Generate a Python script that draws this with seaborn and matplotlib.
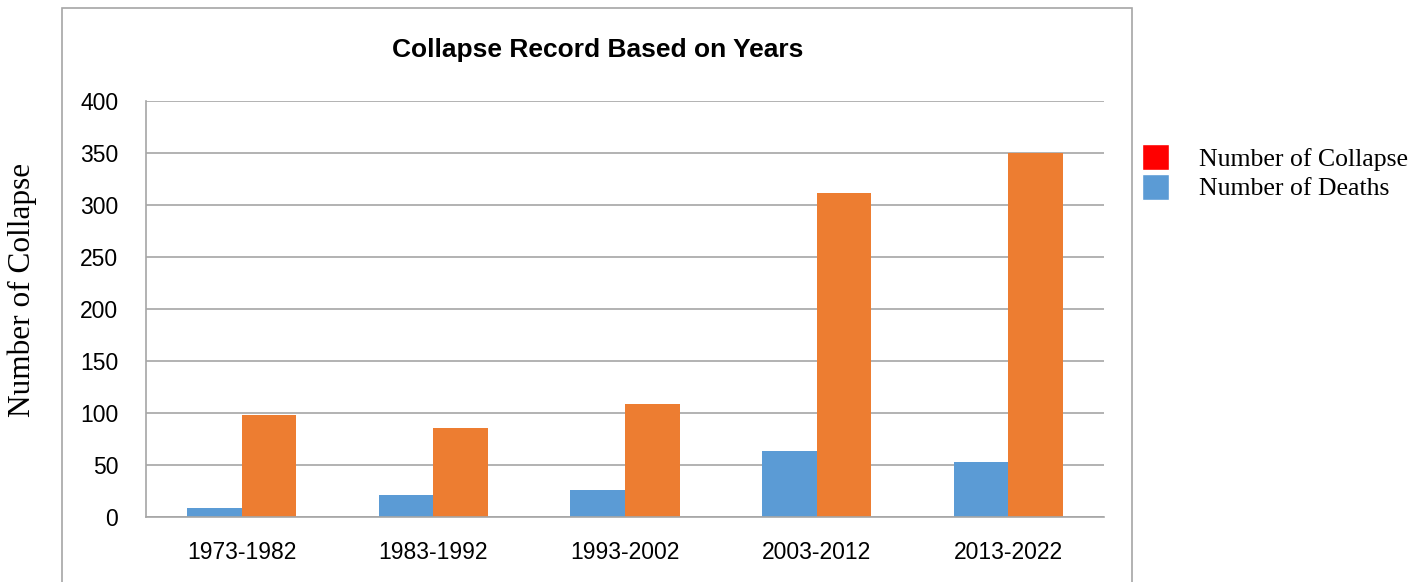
import pandas as pd
import seaborn as sns
import matplotlib.pyplot as plt
from matplotlib.patches import Patch, Rectangle

# Data
periods = ["1973-1982", "1983-1992", "1993-2002", "2003-2012", "2013-2022"]
deaths = [9, 21, 26, 63, 53]
collapses = [98, 86, 109, 312, 350]
y_ticks = [0, 50, 100, 150, 200, 250, 300, 350, 400]

df = pd.DataFrame({
    "period": periods * 2,
    "value": deaths + collapses,
    "series": ["Deaths"] * len(periods) + ["Collapse"] * len(periods),
})

sns.set_style("white")
plt.rcParams["font.family"] = ["Liberation Sans", "DejaVu Sans"]
plt.rcParams["text.color"] = "black"
plt.rcParams["xtick.labelcolor"] = "black"
plt.rcParams["ytick.labelcolor"] = "black"

fig = plt.figure(figsize=(14.26, 5.82), dpi=100)
ax = fig.add_axes([146 / 1426, 65 / 582, (1104 - 146) / 1426, (517 - 101) / 582])

sns.barplot(data=df, x="period", y="value", hue="series", hue_order=["Deaths", "Collapse"],
            palette=["#5B9BD5", "#ED7D31"], width=0.57, saturation=1, linewidth=0,
            ax=ax, legend=False)

ax.set_ylim(0, 400)
ax.set_xlim(-0.5, 4.5)
ax.set_yticks(y_ticks)
ax.set_xlabel("")
ax.set_ylabel("")
ax.yaxis.grid(True, color="#A6A6A6", linewidth=1.2)
ax.set_axisbelow(True)
for s in ["top", "right"]:
    ax.spines[s].set_visible(False)
for s in ["left", "bottom"]:
    ax.spines[s].set_color("#A6A6A6")
    ax.spines[s].set_linewidth(1.2)
ax.tick_params(axis="y", length=6, width=1.2, color="#A6A6A6", labelsize=16.5, pad=14)
ax.tick_params(axis="x", which="major", length=0, labelsize=16.5, pad=17)
ax.set_xticks([-0.5, 0.5, 1.5, 2.5, 3.5, 4.5], minor=True)
ax.tick_params(axis="x", which="minor", length=6, width=1.2, color="#A6A6A6")

fig.text(598 / 1426, 1 - 50 / 582, "Collapse Record Based on Years", ha="center", va="center",
         fontsize=19, fontweight="bold")
fig.text(22 / 1426, 1 - 290 / 582, "Number of Collapse", rotation=90, ha="center", va="center",
         fontsize=22.5, family="Liberation Serif")

# outer chart frame
fig.patches.append(Rectangle((62 / 1426, -0.05), (1132 - 62) / 1426, 1.05 - 8 / 582,
                             transform=fig.transFigure, fill=False, edgecolor="#A6A6A6",
                             linewidth=1.2, clip_on=False))

handles = [Patch(facecolor="#FF0000", label="Number of Collapse"),
           Patch(facecolor="#5B9BD5", label="Number of Deaths")]
fig.legend(handles=handles, loc="upper left", bbox_to_anchor=(1119 / 1426, 1 - 121 / 582),
           frameon=False, prop={"family": "Liberation Serif", "size": 18.5},
           handlelength=1.05, handleheight=1.2, handletextpad=1.15, labelspacing=0.1)

fig.savefig("out.png", dpi=100)
